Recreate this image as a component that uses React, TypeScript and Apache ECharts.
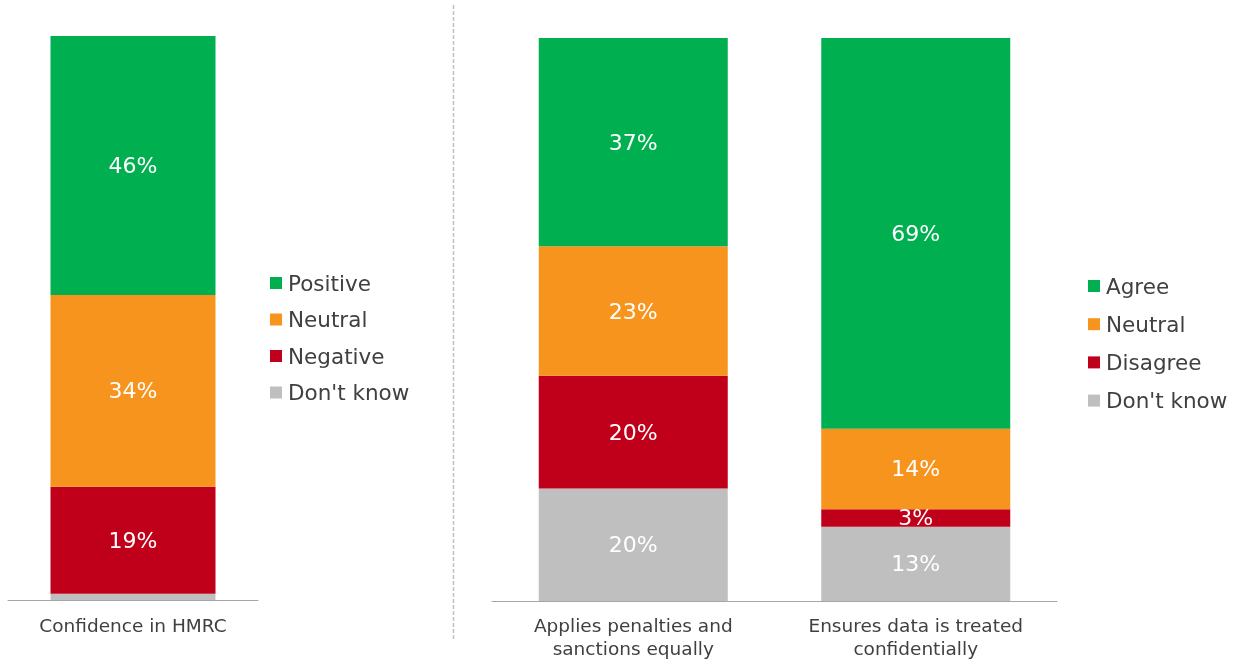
import React, { useEffect, useRef } from "react";
import * as echarts from "echarts";

const leftCategories = ["Confidence in HMRC"];
const leftNames = ["Positive", "Neutral", "Negative", "Don't know"];
const leftValues = [[45.9], [34.0], [19.0], [1.1]];

const rightCategories = ["Applies penalties and\nsanctions equally", "Ensures data is treated\nconfidentially"];
const rightNames = ["Agree", "Neutral", "Disagree", "Don't know"];
const rightValues = [
  [37, 69.4],
  [23, 14.3],
  [20, 3.1],
  [20, 13.2],
];

const colors = ["#00B050", "#F7941D", "#C0001A", "#BFBFBF"];
const FONT = "DejaVu Sans";

export default function App() {
  const ref = useRef<HTMLDivElement>(null);
  useEffect(() => {
    const chart = echarts.init(ref.current!, null, { renderer: "svg" });
    const order = [3, 2, 1, 0];
    const mkSeries = (names: string[], values: number[][], idx: number) =>
      order.map((i) => ({
        name: names[i],
        type: "bar",
        stack: "s" + idx,
        xAxisIndex: idx,
        yAxisIndex: idx,
        barWidth: idx === 0 ? 165 : 189,
        data: values[i],
        itemStyle: { color: colors[i] },
        label: {
          show: true,
          position: "inside",
          color: "#FFFFFF",
          fontFamily: FONT,
          fontSize: 22,
          formatter: (p: any) => (p.value >= 2 ? Math.round(p.value) + "%" : ""),
        },
      }));
    const axisLabel = { color: "#404040", fontFamily: FONT, fontSize: 18.5, lineHeight: 23, margin: 14 };
    const legendText = { color: "#404040", fontFamily: FONT, fontSize: 21.5, padding: [0, 0, 0, 1] };
    chart.setOption({
      animation: false,
      grid: [
        { left: 8, width: 250, top: 36, bottom: 62 },
        { left: 492, width: 565, top: 38, bottom: 61 },
      ],
      xAxis: [
        { type: "category", gridIndex: 0, data: leftCategories, axisTick: { show: false }, axisLine: { lineStyle: { color: "#A6A6A6" } }, axisLabel },
        { type: "category", gridIndex: 1, data: rightCategories, axisTick: { show: false }, axisLine: { lineStyle: { color: "#A6A6A6" } }, axisLabel: { ...axisLabel, margin: 13 } },
      ],
      yAxis: [
        { type: "value", gridIndex: 0, min: 0, max: 100, show: false },
        { type: "value", gridIndex: 1, min: 0, max: 100, show: false },
      ],
      legend: [
        {
          orient: "vertical",
          left: 270,
          top: 272,
          padding: 0,
          icon: "rect",
          itemWidth: 12,
          itemHeight: 12,
          itemGap: 14.5,
          data: leftNames,
          selectedMode: false,
          textStyle: legendText,
        },
        {
          orient: "vertical",
          left: 1088,
          top: 275,
          padding: 0,
          icon: "rect",
          itemWidth: 12,
          itemHeight: 12,
          itemGap: 16.2,
          data: rightNames,
          selectedMode: false,
          textStyle: legendText,
        },
      ],
      graphic: [
        {
          type: "line",
          shape: { x1: 453.5, y1: 5, x2: 453.5, y2: 640 },
          style: { stroke: "#BFBFBF", lineWidth: 1.5, lineDash: [4, 2] },
        },
      ],
      series: [...mkSeries(leftNames, leftValues, 0), ...mkSeries(rightNames, rightValues, 1)],
    });
    return () => chart.dispose();
  }, []);
  return <div ref={ref} style={{ position: "fixed", left: 0, top: 0, width: 1239, height: 662 }} />;
}
